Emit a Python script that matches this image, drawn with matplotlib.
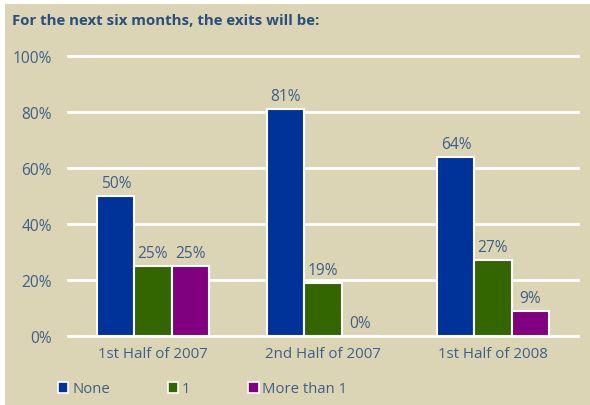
import numpy as np
import matplotlib
matplotlib.use("Agg")
import matplotlib.pyplot as plt
from matplotlib.patches import Rectangle, Patch

plt.rcParams['font.family'] = ['Open Sans', 'DejaVu Sans']

categories = ["1st Half of 2007", "2nd Half of 2007", "1st Half of 2008"]
series = ["None", "1", "More than 1"]
none_vals = [50, 81, 64]
one_vals = [25, 19, 27]
more_vals = [25, 0, 9]
yticks = [0, 20, 40, 60, 80, 100]

colors = ["#003399", "#336600", "#800080"]
bg = "#DBD5B5"
txt = "#3F5F86"

fig = plt.figure(figsize=(5.90, 4.06), dpi=100, facecolor="white")
fig.patches.append(Rectangle((5 / 590, 0), 1, 1 - 5 / 406, transform=fig.transFigure,
                             facecolor=bg, edgecolor="none", zorder=-10))

ax = fig.add_axes([68 / 590, 69 / 406, 510 / 590, 280 / 406])
ax.set_facecolor("none")

x = np.arange(len(categories))
w = 0.218
for i, vals in enumerate([none_vals, one_vals, more_vals]):
    pos = x + (i - 1) * w
    ax.bar(pos, vals, width=w, color=colors[i], edgecolor="white",
           linewidth=1.5, zorder=3, label=series[i])
    for p, v in zip(pos, vals):
        ax.text(p, v + 1.8, f"{v}%", ha="center", va="bottom", fontsize=11.2,
                color=txt)

for t in yticks:
    ax.axhline(t, color="white", linewidth=2, zorder=1, clip_on=False)

ax.set_xlim(-0.5, 2.5)
ax.set_ylim(0, 100)
ax.set_yticks(yticks)
ax.set_yticklabels([f"{t}%" for t in yticks], fontsize=11.2, color=txt)
ax.set_xticks(x)
ax.set_xticklabels(categories, fontsize=10.8, color=txt)
ax.tick_params(length=0)
ax.tick_params(axis="y", pad=11.5)
ax.tick_params(axis="x", pad=7)
for s in ax.spines.values():
    s.set_visible(False)

handles = [Patch(facecolor=c, edgecolor="white", linewidth=1.2) for c in colors]
fig.legend(handles, series, loc="center left", bbox_to_anchor=(58 / 590, 1 - 390 / 406),
           ncol=3, frameon=False, fontsize=10.7, labelcolor=txt,
           handlelength=0.7, handleheight=0.7, handletextpad=0.25,
           columnspacing=3.9, borderaxespad=0, borderpad=0)

fig.text(12 / 590, 1 - 21 / 406, "For the next six months, the exits will be:",
         fontsize=10.85, fontweight="bold", color="#2A4F7F", va="center", ha="left")

fig.savefig("out.png", dpi=100, facecolor=fig.get_facecolor())
